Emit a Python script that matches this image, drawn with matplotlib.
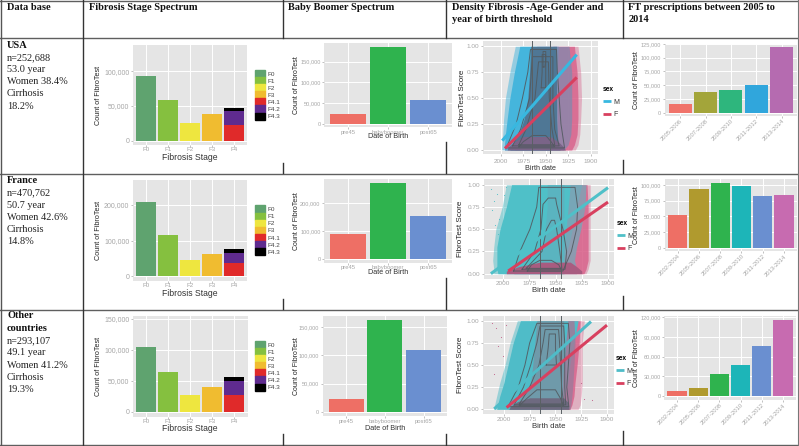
import numpy as np
import matplotlib
matplotlib.use("Agg")
import matplotlib.pyplot as plt
from matplotlib.patches import Patch
from matplotlib.lines import Line2D
from matplotlib.ticker import FuncFormatter

W, H = 799, 446
plt.rcParams['font.family'] = ['Liberation Sans', 'DejaVu Sans']

# text of the table
headers = ["Data base", "Fibrosis Stage Spectrum", "Baby Boomer Spectrum",
           "Density Fibrosis -Age-Gender and\nyear of birth threshold",
           "FT prescriptions between 2005 to\n2014"]
usa_text = ["n=252,688", "53.0 year", "Women 38.4%", "Cirrhosis", "18.2%"]
france_text = ["n=470,762", "50.7 year", "Women 42.6%", "Cirrhosis", "14.8%"]
other_text = ["n=293,107", "49.1 year", "Women 41.2%", "Cirrhosis", "19.3%"]

# fibrosis stage counts
stages = ["F0", "F1", "F2", "F3", "F4"]
stage_legend = ["F0", "F1", "F2", "F3", "F4.1", "F4.2", "F4.3"]
usa_stage = [93200, 58600, 25500, 38500]
usa_f4 = [22200, 21000, 4400]
france_stage = [208400, 115800, 45700, 63400]
france_f4 = [37300, 28900, 9500]
other_stage = [105000, 64800, 26800, 40200]
other_f4 = [26800, 23000, 6500]

# baby boomer counts
usa_birth_names = ["pre45", "babyboomer", "post65"]
usa_birth = [23500, 184800, 56600]
france_birth = [91000, 270900, 152600]
other_birth = [22900, 161800, 108900]

# prescriptions
usa_years = ["2005-2006", "2007-2008", "2009-2010", "2011-2012", "2013-2014"]
usa_presc = [15800, 37100, 40800, 49900, 119600]
france_years = ["2002-2004", "2005-2006", "2007-2008", "2009-2010", "2011-2012", "2013-2014"]
france_presc = [51900, 93100, 103200, 97900, 82500, 83600]
other_presc = [7600, 11700, 33600, 47300, 76800, 116000]

# density panels: trend lines as (birth year, score) end points
usa_m_line = ([1998.5, 1915.4], [0.09, 0.92])
usa_f_line = ([1995.5, 1915.4], [0.015, 0.70])
france_m_line = ([2011.7, 1900], [0.0, 0.967])
france_f_line = ([1995.2, 1900], [0.03, 0.805])
other_m_line = ([2009.4, 1915.5], [0.005, 0.99])
other_f_line = ([1997.4, 1900], [0.02, 0.95])

# density panels: outline of the point clouds, read per score level
score_levels = [0.0, 0.05, 0.15, 0.3, 0.5, 0.75, 1.0]
usa_halo_left = [1999, 1999, 1998, 1997, 1995, 1990, 1984]
usa_halo_right = [1917, 1914, 1912, 1911, 1910, 1911, 1914]
usa_pink_left = [1996, 1996, 1992, 1986, 1976, 1968, 1960]
usa_pink_right = [1921, 1918, 1915, 1914, 1914, 1915, 1918]
usa_blue_left = [1996, 1996, 1995, 1993, 1990, 1985, 1979]
usa_blue_right = [1945, 1942, 1938, 1937, 1937, 1937, 1936]
usa_mix_left = [1985, 1975, 1968, 1958, 1950, 1945, 1942]
usa_mix_right = [1930, 1925, 1922, 1921, 1921, 1921, 1924]
usa_dense_left = [1990, 1988, 1980, 1974, 1970, 1968, 1967]
usa_dense_right = [1934, 1936, 1937, 1938, 1938, 1938, 1938]

france_halo_left = [2009, 2009, 2010, 2009, 2007, 2001, 1997]
france_halo_right = [1921, 1919, 1917, 1917, 1917, 1917, 1917]
france_pink_left = [1999, 1999, 1990, 1972, 1958, 1950, 1945]
france_pink_right = [1923, 1921, 1919, 1919, 1919, 1919, 1920]
france_blue_left = [2005, 2006, 2006, 2006, 2003, 1997, 1992]
france_blue_right = [1960, 1950, 1943, 1938, 1934, 1930, 1925]
france_mix_left = [1960, 1950, 1945, 1942, 1940, 1938, 1936]
france_mix_right = [1930, 1930, 1932, 1930, 1926, 1922, 1921]
france_dense_left = [1990, 1984, 1968, 1962, 1960, 1958, 1958]
france_dense_right = [1942, 1942, 1942, 1942, 1942, 1942, 1942]

other_halo_left = [2010, 2009, 2007, 2004, 1999, 1994, 1987]
other_halo_right = [1928, 1926, 1925, 1924, 1924, 1924, 1922]
other_pink_left = [1996, 1996, 1990, 1982, 1970, 1960, 1950]
other_pink_right = [1936, 1934, 1932, 1931, 1929, 1927, 1926]
other_blue_left = [2007, 2006, 2004, 2000, 1996, 1991, 1984]
other_blue_right = [1960, 1950, 1942, 1938, 1936, 1932, 1928]
other_mix_left = [1970, 1960, 1950, 1945, 1942, 1940, 1938]
other_mix_right = [1936, 1935, 1934, 1933, 1932, 1931, 1932]
other_dense_left = [1992, 1990, 1982, 1974, 1972, 1970, 1968]
other_dense_right = [1942, 1942, 1943, 1943, 1942, 1942, 1942]

# the dense strip of low scores: scores, left years, right years
usa_band = ([0.0, 0.03, 0.08, 0.13], [1993, 1992, 1985, 1975], [1928, 1930, 1936, 1945])
france_band = ([0.0, 0.03, 0.08, 0.13], [1997, 1997, 1985, 1965], [1925, 1925, 1930, 1936])
other_band = ([0.0, 0.03, 0.08, 0.13], [1995, 1994, 1988, 1975], [1937, 1937, 1938, 1942])

# density contours: (scores, left years, right years)
usa_contours = [
    ([0.02, 0.25, 0.5, 0.75, 0.97], [1994, 1983, 1976, 1970, 1967], [1929, 1933, 1935, 1937, 1938]),
    ([0.04, 0.2, 0.5, 0.9], [1987, 1978, 1968, 1965], [1935, 1940, 1942, 1942]),
    ([0.05, 0.2, 0.5, 0.85], [1980, 1972, 1962, 1958], [1940, 1943, 1946, 1947]),
    ([0.03, 0.08, 0.14], [1980, 1975, 1965], [1940, 1944, 1950]),
    ([0.6, 0.75, 0.92], [1955, 1954, 1954], [1950, 1950, 1950]),
    ([0.8, 0.87, 0.95], [1953, 1953, 1953], [1951, 1950, 1950]),
]
france_contours = [
    ([0.03, 0.25, 0.5, 0.75, 0.97], [1990, 1984, 1974.5, 1968, 1966], [1943, 1935, 1930, 1929, 1931.5]),
    ([0.05, 0.25, 0.5, 0.78, 0.85], [1982, 1970, 1964, 1962, 1957], [1941, 1939.5, 1943, 1949, 1950]),
    ([0.06, 0.25, 0.5, 0.6], [1978, 1963, 1958.6, 1954], [1944, 1946, 1949, 1951]),
    ([0.03, 0.1, 0.15], [1977, 1973, 1965], [1944, 1947, 1954]),
]
other_contours = [
    ([0.03, 0.25, 0.5, 0.75, 0.97], [1996, 1986, 1979.6, 1975, 1968], [1937, 1939, 1937.5, 1936, 1937.5]),
    ([0.05, 0.25, 0.5, 0.75, 0.94], [1990, 1981, 1974, 1968, 1965], [1940, 1941, 1941, 1941, 1942]),
    ([0.06, 0.25, 0.5, 0.75, 0.9], [1985, 1975, 1966, 1962, 1960], [1942, 1944, 1945, 1946, 1947]),
    ([0.04, 0.12, 0.22], [1985, 1978, 1968], [1942, 1945, 1950]),
    ([0.5, 0.7, 0.85], [1959, 1957, 1956], [1949, 1950, 1950]),
]

# stray points around the clouds
france_stray_year = [2012, 2009, 2006, 2004, 2008, 2011, 1997, 1999, 2005]
france_stray_score = [0.95, 0.82, 0.9, 0.62, 0.55, 0.72, 0.97, 0.88, 0.45]
other_stray_year = [2012, 2008, 2006, 2003, 2010, 1998, 2001, 1925, 1922, 1915]
other_stray_score = [0.97, 0.92, 0.71, 0.82, 0.4, 0.95, 0.6, 0.3, 0.12, 0.1]

stage_colors = ["#5fa36f", "#85c03f", "#eee63f", "#f0bc30", "#e02a2a", "#5f2b8f", "#000000"]
birth_colors = ["#ee6f65", "#2fb34e", "#6a8fd0"]
presc5_colors = ["#f0736a", "#a3a53a", "#2eb67d", "#30a6dc", "#b56bb0"]
presc6_colors = ["#ee6f65", "#b09a2e", "#2fb34e", "#1db5b8", "#6a8fd0", "#c76bb0"]

thousands = FuncFormatter(lambda v, p: f"{int(v):,}")
fig = plt.figure(figsize=(W / 100, H / 100), dpi=100, facecolor="white")


def add_panel(box, y_ref, x_lim, tick_x=4.6, tick_y=4.6):
    # box is left, top, right, bottom in pixels, y_ref is value, pixel, value, pixel
    l, t, r, b = box
    ax = fig.add_axes([l / W, 1 - b / H, (r - l) / W, (b - t) / H], facecolor="#e5e5e5")
    v0, p0, v1, p1 = y_ref
    k = (v1 - v0) / (p1 - p0)
    ax.set_ylim(v0 + (b - p0) * k, v0 + (t - p0) * k)
    ax.set_xlim(*x_lim)
    ax.grid(True, color="white", lw=0.7)
    ax.set_axisbelow(True)
    for s in ax.spines.values():
        s.set_visible(False)
    ax.tick_params(labelcolor="#a6a6a6", color="#a6a6a6", length=1.2, width=0.5, pad=0.8)
    ax.tick_params(axis="x", labelsize=tick_x)
    ax.tick_params(axis="y", pad=1.5, labelsize=tick_y)
    return ax


def axis_titles(ax, xlabel, ylabel, box, ylab_x, xlab_y, xsize, ysize):
    l, t, r, b = box
    if xlabel:
        ax.text((l + r) / 2 / W, 1 - xlab_y / H, xlabel, transform=fig.transFigure, fontsize=xsize,
                color="#333333", ha="center", va="center")
    ax.text(ylab_x / W, 1 - ((t + b) / 2) / H, ylabel, transform=fig.transFigure, fontsize=ysize,
            color="#222222", ha="center", va="center", rotation=90)


def stage_panel(box, y_ref, yticks, values, f4, leg_top, xlab_y):
    ax = add_panel(box, y_ref, (-0.6, 4.6), tick_x=4.5, tick_y=5.0)
    ax.tick_params(axis="x", pad=0.4)
    ax.bar(range(4), values, width=0.9, color=stage_colors[:4])
    bottom = 0
    for val, col in zip(f4, stage_colors[4:]):
        ax.bar(4, val, width=0.9, bottom=bottom, color=col)
        bottom += val
    ax.set_xticks(range(5), stages)
    ax.set_yticks(yticks)
    ax.yaxis.set_major_formatter(thousands)
    axis_titles(ax, "Fibrosis Stage", "Count of FibroTest", box, 98, xlab_y, 6.2, 5.2)
    handles = [Patch(color=c, label=n) for c, n in zip(stage_colors, stage_legend)]
    leg = ax.legend(handles=handles, loc="upper left", bbox_to_anchor=(255 / W, 1 - leg_top / H),
                    bbox_transform=fig.transFigure, frameon=False, fontsize=4.6, borderpad=0,
                    borderaxespad=0, labelspacing=0, handlelength=1.55, handleheight=1.33, handletextpad=0.35)
    for txt in leg.get_texts():
        txt.set_color("#444444")


def bar_panel(box, y_ref, yticks, names, values, colors, ylab_x, xlab_y, xlabel):
    ax = add_panel(box, y_ref, (-0.6, len(values) - 0.4), tick_x=4.2, tick_y=4.1)
    ax.bar(range(len(values)), values, width=0.9, color=colors)
    ax.set_xticks(range(len(values)), names)
    ax.set_yticks(yticks)
    ax.yaxis.set_major_formatter(thousands)
    axis_titles(ax, xlabel, "Count of FibroTest", box, ylab_x, xlab_y, 5.2, 5.0)
    return ax


def presc_panel(box, y_ref, yticks, names, values, colors, ylab_x):
    ax = bar_panel(box, y_ref, yticks, names, values, colors, ylab_x, None, "")
    ax.tick_params(axis="x", labelsize=4.2)
    plt.setp(ax.get_xticklabels(), rotation=45, ha="right", rotation_mode="anchor")


def cloud(ax, left, right, color, alpha=1.0):
    ax.fill_betweenx(score_levels, left, right, color=color, alpha=alpha, lw=0)


def density_panel(box, y_ref, xlim, clouds, band, contours, m_line, f_line, colors, vlines, leg_xy, ylab_x, xlab_y, xpad=0.8, xsize=5.6):
    ax = add_panel(box, y_ref, xlim)
    ax.tick_params(axis="x", pad=xpad)
    halo, pink, blue, mix, dense = clouds
    # faint fringe, blue on the young side and pink on the old side
    cloud(ax, halo[0], np.full(7, 1945), colors[0], 0.5)
    cloud(ax, np.full(7, 1945), halo[1], "#d8608a", 0.4)
    cloud(ax, *pink, "#d8608a", 0.8)
    cloud(ax, *blue, colors[0])
    cloud(ax, *mix, colors[2], 0.85)
    cloud(ax, *dense, colors[3])
    ax.fill_betweenx(band[0], band[1], band[2], color=colors[4], lw=0)
    for scores, left, right in contours:
        xs = list(left) + list(right)[::-1] + [left[0]]
        ys = list(scores) + list(scores)[::-1] + [scores[0]]
        ax.plot(xs, ys, color="#525a60", lw=0.7, alpha=0.9)
    for year in vlines:
        ax.axvline(year, color="#5a6064", lw=0.7)
    ax.plot(*m_line, color=colors[1], lw=2.2, solid_capstyle="butt")
    ax.plot(*f_line, color="#d8405f", lw=2.2, solid_capstyle="butt")
    ax.set_xticks([2000, 1975, 1950, 1925, 1900])
    ax.set_yticks([0, 0.25, 0.5, 0.75, 1.0], ["0.00", "0.25", "0.50", "0.75", "1.00"])
    axis_titles(ax, "Birth date", "FibroTest Score", box, ylab_x, xlab_y, xsize, 5.8)
    handles = [Line2D([], [], color=colors[1], lw=2, label="M", solid_capstyle="butt"),
               Line2D([], [], color="#d8405f", lw=2, label="F", solid_capstyle="butt")]
    leg = ax.legend(handles=handles, title="sex", loc="upper left", alignment="left",
                    bbox_to_anchor=(leg_xy[0] / W, 1 - leg_xy[1] / H), bbox_transform=fig.transFigure,
                    frameon=False, fontsize=5.0, title_fontproperties={"weight": "bold", "size": 4.8},
                    borderpad=0, borderaxespad=0, labelspacing=0.8, handlelength=1.15, handletextpad=0.3)
    for txt in leg.get_texts():
        txt.set_color("#333333")
    return ax


# first column of charts
stage_panel((133, 45, 247, 145), (0, 140.7, 100000, 71.3), [0, 50000, 100000], usa_stage, usa_f4, 70, 157)
stage_panel((133, 180, 247, 281), (0, 276.3, 200000, 205), [0, 100000, 200000], france_stage, france_f4, 205.5, 293)
stage_panel((133, 316, 247.5, 416.7), (0, 412, 150000, 318.7), [0, 50000, 100000, 150000], other_stage, other_f4, 341, 428.7)

# second column
bar_panel((324.3, 43.3, 452, 127.3), (0, 123.7, 150000, 61.7), [0, 50000, 100000, 150000],
          usa_birth_names, usa_birth, birth_colors, 296, 137, "Date of Birth")
bar_panel((324.3, 179.3, 452, 262.7), (0, 259.3, 200000, 203), [0, 100000, 200000],
          usa_birth_names, france_birth, birth_colors, 296, 272.5, "Date of Birth")
bar_panel((323, 316, 446.7, 416), (0, 412, 150000, 327), [0, 50000, 100000, 150000],
          usa_birth_names, other_birth, birth_colors, 296, 428, "Date of Birth")

# third column
density_panel((483, 41, 597.7, 154), (0, 150, 1, 46.3), (2020, 1892),
              [(usa_halo_left, usa_halo_right), (usa_pink_left, usa_pink_right), (usa_blue_left, usa_blue_right),
               (usa_mix_left, usa_mix_right), (usa_dense_left, usa_dense_right)], usa_band,
              usa_contours, usa_m_line, usa_f_line, ["#45b5dc", "#38b8e0", "#8c86ab", "#4f7795", "#7a6488"],
              [1965, 1945], (603, 86), 463, 168, xpad=2.5, xsize=5.2)
ax = density_panel((484.3, 179.3, 614, 278.7), (0, 273.7, 1, 184.7), (2018, 1894.3),
                   [(france_halo_left, france_halo_right), (france_pink_left, france_pink_right),
                    (france_blue_left, france_blue_right), (france_mix_left, france_mix_right),
                    (france_dense_left, france_dense_right)], france_band,
                   france_contours, france_m_line, france_f_line,
                   ["#4fc0c8", "#4fc0c8", "#7fa2b4", "#5ab4c0", "#a85c80"],
                   [1965, 1945], (617, 220), 460, 290.5)
ax.scatter(france_stray_year, france_stray_score, s=0.6, color="#4fc0c8", lw=0)
ax = density_panel((483.3, 316, 614.3, 414.3), (0, 409.3, 1, 320.7), (2020, 1892.9),
                   [(other_halo_left, other_halo_right), (other_pink_left, other_pink_right),
                    (other_blue_left, other_blue_right), (other_mix_left, other_mix_right),
                    (other_dense_left, other_dense_right)], other_band,
                   other_contours, other_m_line, other_f_line,
                   ["#4fbcc8", "#4fbcc8", "#a07a9a", "#6f9aaa", "#6e6a80"],
                   [1965, 1945], (616, 355), 460, 426)
ax.scatter(other_stray_year, other_stray_score, s=0.6, color="#c06088", lw=0)

# last column
presc_panel((665, 44, 796.7, 115.7), (0, 112.7, 125000, 44), [0, 25000, 50000, 75000, 100000, 125000],
            usa_years, usa_presc, presc5_colors, 636.5)
presc_panel((665, 179.3, 796.7, 251), (0, 248, 100000, 185), [0, 25000, 50000, 75000, 100000],
            france_years, france_presc, presc6_colors, 636.5)
presc_panel((664.3, 316, 795.7, 400), (0, 396, 120000, 317.3), [0, 30000, 60000, 90000, 120000],
            france_years, other_presc, presc6_colors, 636.5)

# table lines and text go on a full figure overlay in pixels
top = fig.add_axes([0, 0, 1, 1], facecolor="none", zorder=-1)
top.set_xlim(0, W)
top.set_ylim(H, 0)
top.axis("off")
for y in [1, 38, 173.5, 309.5, 445]:
    top.plot([0, W], [y, y], color="#5f5f5f", lw=1.0)
top.plot([1, 1], [0, H], color="#555555", lw=1.0)
top.plot([798, 798], [0, H], color="#777777", lw=0.8)
top.plot([83, 83], [0, H], color="#333333", lw=1.0)
for x, spans in [(282.5, [(0, 38), (163, 173), (299, 309), (434, 445)]),
                 (446, [(0, 38), (142, 173), (278, 309), (434, 445)]),
                 (622.5, [(0, 38), (160, 173), (296, 309), (431, 445)])]:
    for a, b in spans:
        top.plot([x, x], [a, b], color="#333333", lw=1.0)

for x, txt in zip([7, 89.3, 288.3, 452.3, 628.3], headers):
    top.text(x, 3, txt, family="Liberation Serif", weight="bold", fontsize=7.5, color="#111111",
             va="top", linespacing=1.38)


def row_text(first_y, title, lines):
    y = first_y
    for part in title:
        top.text(7, y, part, family="Liberation Serif", weight="bold", fontsize=7.5, color="#111111", va="center")
        y += 12.3
    for part in lines:
        top.text(7, y, part, family="Liberation Serif", fontsize=7.4, color="#222222", va="center")
        y += 12.2


row_text(45, ["USA"], usa_text)
row_text(180.7, ["France"], france_text)
row_text(316, ["Other", "countries"], other_text)

fig.savefig("out.png", dpi=100)
